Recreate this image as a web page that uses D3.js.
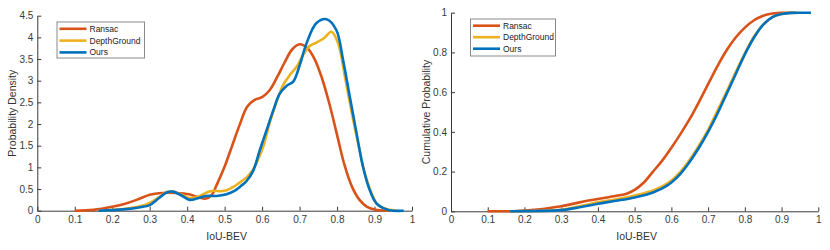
<!DOCTYPE html>
<html>
<head>
  <meta charset="utf-8">
  <script src="https://cdn.jsdelivr.net/npm/d3@7"></script>
  <style type="text/css">
    body { margin: 0; background: #fff; }
    svg { font-family: "Liberation Sans", Arial, sans-serif; }
    .axis path, .axis line { stroke: #3a3a3a; }
    .axis text { fill: #3a3a3a; font-size: 10px; }
    .label { fill: #333; font-size: 10.5px; }
    .legend text { fill: #222; font-size: 8.5px; }
  </style>
</head>
<body>
<script type="text/javascript">

// series names and colours
const names = ['Ransac', 'DepthGround', 'Ours'];
const colors = ['#D95319', '#EDB120', '#0072BD'];

// probability density (left)
const ransacPdfX = [0.10,0.15,0.20,0.23,0.265,0.30,0.335,0.37,0.405,0.43,0.45,0.465,0.48,0.50,0.52,0.54,0.56,0.58,0.60,0.62,0.64,0.66,0.68,0.70,0.72,0.74,0.76,0.78,0.80,0.82,0.84,0.86,0.88,0.90,0.936];
const ransacPdf  = [0,0.02,0.09,0.15,0.25,0.37,0.41,0.41,0.38,0.31,0.28,0.36,0.62,1.02,1.50,1.98,2.40,2.56,2.62,2.78,3.08,3.42,3.72,3.84,3.76,3.50,3.05,2.45,1.75,1.05,0.55,0.25,0.09,0.03,0];

const depthPdfX = [0.163,0.23,0.274,0.30,0.323,0.345,0.363,0.385,0.407,0.434,0.452,0.47,0.49,0.505,0.523,0.545,0.56,0.576,0.59,0.603,0.62,0.638,0.656,0.674,0.692,0.709,0.727,0.745,0.765,0.785,0.803,0.821,0.838,0.856,0.874,0.892,0.909,0.94,0.96];
const depthPdf  = [0,0.04,0.10,0.18,0.30,0.43,0.44,0.37,0.29,0.34,0.42,0.46,0.45,0.47,0.55,0.68,0.78,0.95,1.2,1.48,2.02,2.50,2.90,3.13,3.32,3.59,3.80,3.88,3.98,4.13,3.86,3.09,2.32,1.56,0.87,0.41,0.13,0.02,0];

const oursPdfX = [0.163,0.23,0.275,0.30,0.323,0.345,0.362,0.385,0.407,0.425,0.45,0.478,0.505,0.525,0.545,0.558,0.576,0.594,0.612,0.63,0.647,0.665,0.683,0.70,0.718,0.745,0.772,0.798,0.816,0.834,0.852,0.869,0.887,0.905,0.932,0.95,0.978];
const oursPdf  = [0,0.03,0.08,0.13,0.28,0.42,0.44,0.35,0.25,0.28,0.34,0.34,0.38,0.45,0.58,0.68,0.92,1.40,1.86,2.32,2.70,2.88,2.98,3.35,3.85,4.33,4.42,4.17,3.48,2.63,1.79,1.02,0.48,0.17,0.03,0,0];

// cumulative probability (right)
const ransacCdfX = [0.10,0.16,0.20,0.25,0.30,0.35,0.40,0.45,0.48,0.50,0.525,0.55,0.575,0.60,0.625,0.65,0.675,0.70,0.725,0.75,0.775,0.80,0.825,0.85,0.875,0.90,0.94];
const ransacCdf  = [0,0,0.004,0.012,0.025,0.045,0.062,0.078,0.09,0.108,0.145,0.20,0.255,0.32,0.39,0.465,0.55,0.64,0.73,0.81,0.875,0.925,0.962,0.985,0.996,1,1];

const depthCdfX = [0.16,0.25,0.30,0.35,0.40,0.45,0.50,0.55,0.575,0.60,0.625,0.65,0.675,0.70,0.725,0.75,0.775,0.80,0.825,0.85,0.875,0.90,0.94];
const depthCdf  = [0,0.002,0.008,0.025,0.045,0.06,0.08,0.105,0.125,0.155,0.2,0.26,0.33,0.41,0.505,0.60,0.70,0.795,0.88,0.94,0.978,0.993,1];

const oursCdfX = [0.16,0.25,0.30,0.35,0.40,0.45,0.50,0.55,0.575,0.60,0.625,0.65,0.675,0.70,0.725,0.75,0.775,0.80,0.825,0.85,0.875,0.90,0.925,0.95,0.98];
const oursCdf  = [0,0.002,0.006,0.02,0.038,0.053,0.07,0.095,0.115,0.145,0.19,0.25,0.32,0.40,0.49,0.59,0.69,0.79,0.875,0.94,0.978,0.993,0.999,1,1];

// tick values and labels
const xTicks = [0,0.1,0.2,0.3,0.4,0.5,0.6,0.7,0.8,0.9,1];
const xTickLabels = ['0','0.1','0.2','0.3','0.4','0.5','0.6','0.7','0.8','0.9','1'];
const pdfTicks = [0,0.5,1,1.5,2,2.5,3,3.5,4,4.5];
const pdfTickLabels = ['0','0.5','1','1.5','2','2.5','3','3.5','4','4.5'];
const cdfTicks = [0,0.2,0.4,0.6,0.8,1];
const cdfTickLabels = ['0','0.2','0.4','0.6','0.8','1'];

const svg = d3.select('body').append('svg')
  .attr('width', 830)
  .attr('height', 250);

function zip(xs, ys) { return xs.map((x, i) => [x, ys[i]]); }

function panel(opt) {
  const x = d3.scaleLinear().domain([0, 1]).range([opt.left, opt.right]);
  const y = d3.scaleLinear().domain([0, opt.ymax]).range([opt.bottom, opt.top]);

  svg.append('g').attr('class', 'axis')
    .attr('transform', `translate(0,${opt.bottom})`)
    .call(d3.axisBottom(x).tickValues(xTicks)
      .tickFormat((d, i) => xTickLabels[i])
      .tickSizeInner(-4).tickSizeOuter(0).tickPadding(5));

  svg.append('g').attr('class', 'axis')
    .attr('transform', `translate(${opt.left},0)`)
    .call(d3.axisLeft(y).tickValues(opt.ticks)
      .tickFormat((d, i) => opt.tickLabels[i])
      .tickSizeInner(-4).tickSizeOuter(0).tickPadding(4));

  svg.selectAll('.axis .domain').attr('stroke-width', 1);

  const line = d3.line()
    .x(d => x(d[0])).y(d => y(d[1]))
    .curve(opt.curve);

  opt.series.forEach((s, i) => {
    svg.append('path')
      .attr('d', line(s))
      .attr('fill', 'none')
      .attr('stroke', colors[i])
      .attr('stroke-width', 2.6)
      .attr('stroke-linejoin', 'round');
  });

  svg.append('text').attr('class', 'label')
    .attr('x', (opt.left + opt.right) / 2 + 2)
    .attr('y', 240)
    .attr('text-anchor', 'middle')
    .text('IoU-BEV');

  svg.append('text').attr('class', 'label')
    .attr('transform', `translate(${opt.ylabelX},${(opt.top + opt.bottom) / 2}) rotate(-90)`)
    .attr('text-anchor', 'middle')
    .text(opt.ylabel);

  // legend
  const lg = svg.append('g').attr('class', 'legend');
  const b = opt.legend;
  lg.append('rect')
    .attr('x', b.x + 0.5).attr('y', b.y + 0.5)
    .attr('width', b.w).attr('height', b.h)
    .attr('fill', '#fff').attr('stroke', '#8a8a8a').attr('stroke-width', 1);
  names.forEach((n, i) => {
    const yy = b.y + b.first + i * b.step;
    lg.append('line')
      .attr('x1', b.x + 3).attr('x2', b.x + 30)
      .attr('y1', yy).attr('y2', yy)
      .attr('stroke', colors[i]).attr('stroke-width', 2.6);
    lg.append('text')
      .attr('x', b.x + 33).attr('y', yy + 3)
      .text(n);
  });
}

panel({
  left: 37.3, right: 412, top: 15.7, bottom: 210.7, ymax: 4.5,
  ticks: pdfTicks, tickLabels: pdfTickLabels,
  ylabel: 'Probability Density', ylabelX: 16,
  curve: d3.curveCatmullRom,
  series: [zip(ransacPdfX, ransacPdf), zip(depthPdfX, depthPdf), zip(oursPdfX, oursPdf)],
  legend: {x: 56.5, y: 21.5, w: 87.5, h: 36, first: 7.3, step: 11.8}
});

panel({
  left: 451, right: 818.3, top: 12.7, bottom: 211.3, ymax: 1,
  ticks: cdfTicks, tickLabels: cdfTickLabels,
  ylabel: 'Cumulative Probability', ylabelX: 430,
  curve: d3.curveMonotoneX,
  series: [zip(ransacCdfX, ransacCdf), zip(depthCdfX, depthCdf), zip(oursCdfX, oursCdf)],
  legend: {x: 470, y: 18.5, w: 85, h: 37, first: 7.2, step: 11.5}
});

</script>
</body>
</html>
